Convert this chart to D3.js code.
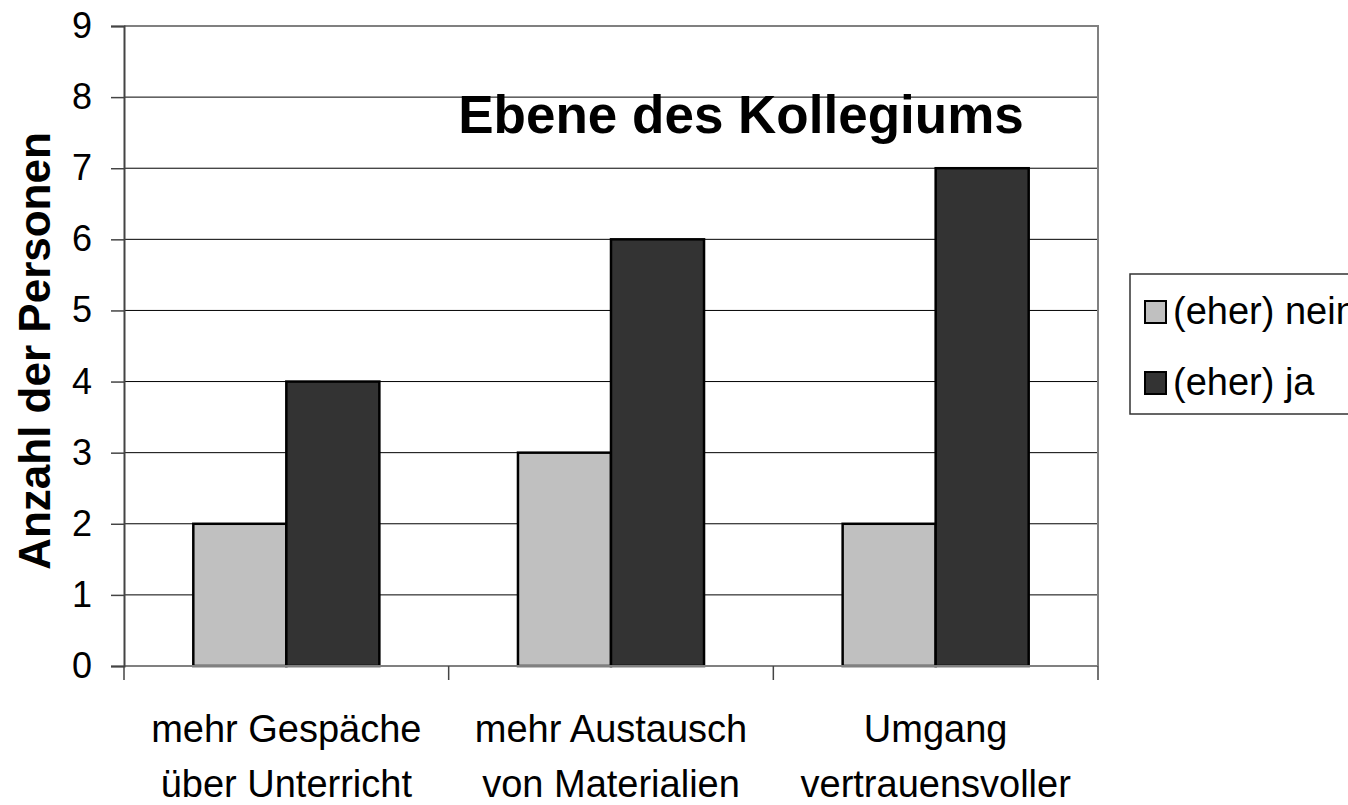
<!DOCTYPE html>
<html>
<head>
<meta charset="utf-8">
<script src="https://cdn.jsdelivr.net/npm/d3@7"></script>
<style>
  body { margin: 0; background: #fff; overflow: hidden; }
  text { font-family: "Liberation Sans", Arial, sans-serif; fill: #000; }
</style>
</head>
<body>
<script>
// Data
var categories = [["mehr Gespäche", "über Unterricht"], ["mehr Austausch", "von Materialien"], ["Umgang", "vertrauensvoller"]];
var series = ["(eher) nein", "(eher) ja"];
var neinValues = [2, 3, 2];
var jaValues = [4, 6, 7];
var yTicks = [0, 1, 2, 3, 4, 5, 6, 7, 8, 9];
var colors = ["#c0c0c0", "#333333"];

var width = 1348, height = 805;
var plot = {left: 124, right: 1098, top: 26, bottom: 666};

var svg = d3.select("body").append("svg")
    .attr("width", width)
    .attr("height", height);

var catIdx = categories.map(function(d, i) { return i; });

var x0 = d3.scaleBand().domain(catIdx).range([plot.left, plot.right]).padding(0);
var x1 = d3.scaleBand().domain(series).range([0, x0.bandwidth()])
    .paddingInner(0).paddingOuter(0.745);
var y = d3.scaleLinear().domain([0, 9]).range([plot.bottom, plot.top]);

// gridlines
svg.append("g").selectAll("line")
    .data(yTicks.filter(function(d) { return d > 0 && d < 9; }))
  .enter().append("line")
    .attr("x1", plot.left).attr("x2", plot.right)
    .attr("y1", function(d) { return y(d); }).attr("y2", function(d) { return y(d); })
    .attr("stroke", "#000").attr("stroke-width", 1);

// plot area border (top, right)
svg.append("path")
    .attr("d", "M" + plot.left + "," + y(9) + "H" + plot.right + "V" + y(0))
    .attr("fill", "none").attr("stroke", "#808080").attr("stroke-width", 2);

// bars
var rows = catIdx.map(function(i) { return [neinValues[i], jaValues[i]]; });
var groups = svg.append("g").selectAll("g")
    .data(rows)
  .enter().append("g")
    .attr("transform", function(d, i) { return "translate(" + x0(i) + ",0)"; });

// x axis line (under bars)
svg.append("line")
    .attr("x1", plot.left).attr("x2", plot.right)
    .attr("y1", y(0)).attr("y2", y(0))
    .attr("stroke", "#808080").attr("stroke-width", 2);

groups.selectAll("rect")
    .data(function(d) { return d.map(function(v, j) { return {s: series[j], v: v, j: j}; }); })
  .enter().append("rect")
    .attr("x", function(d) { return x1(d.s); })
    .attr("width", x1.bandwidth())
    .attr("y", function(d) { return y(d.v); })
    .attr("height", function(d) { return y(0) - y(d.v); })
    .attr("fill", function(d) { return colors[d.j]; })
    .attr("stroke", "#000").attr("stroke-width", 2.5);

// y axis
var yAxis = svg.append("g")
    .attr("transform", "translate(" + plot.left + ",0)")
    .call(d3.axisLeft(y).tickValues(yTicks).tickSize(13).tickPadding(19).tickFormat(d3.format("d")));
yAxis.select(".domain").attr("stroke", "#444").attr("stroke-width", 2);
yAxis.selectAll(".tick line").attr("stroke", "#444").attr("stroke-width", 1.5);
yAxis.selectAll(".tick text")
    .style("font-size", "36px")
    .style("font-family", "'Liberation Sans', Arial, sans-serif")
    .attr("fill", "#000");

// x category ticks
svg.append("g").selectAll("line")
    .data(d3.range(categories.length + 1))
  .enter().append("line")
    .attr("x1", function(d) { return plot.left + d * x0.step(); })
    .attr("x2", function(d) { return plot.left + d * x0.step(); })
    .attr("y1", y(0)).attr("y2", y(0) + 14)
    .attr("stroke", "#444").attr("stroke-width", 1.5);

// category labels
var catLabels = svg.append("g").selectAll("g")
    .data(categories)
  .enter().append("g")
    .attr("transform", function(d, i) { return "translate(" + (x0(i) + x0.bandwidth() / 2) + ",0)"; });
catLabels.selectAll("text")
    .data(function(d) { return d; })
  .enter().append("text")
    .attr("text-anchor", "middle")
    .attr("y", function(d, k) { return 742 + k * 55; })
    .style("font-size", "38px")
    .text(function(d) { return d; });

// title
svg.append("text")
    .attr("x", 741).attr("y", 133)
    .attr("text-anchor", "middle")
    .style("font-size", "53px").style("font-weight", "bold")
    .text("Ebene des Kollegiums");

// y axis title
svg.append("text")
    .attr("transform", "translate(50," + ((132 + 570) / 2) + ") rotate(-90)")
    .attr("text-anchor", "middle")
    .style("font-size", "44px").style("font-weight", "bold")
    .text("Anzahl der Personen");

// legend
var legend = svg.append("g");
legend.append("rect")
    .attr("x", 1130).attr("y", 274)
    .attr("width", 260).attr("height", 140)
    .attr("fill", "#fff").attr("stroke", "#333").attr("stroke-width", 1.5);
var items = legend.selectAll("g.item")
    .data(series)
  .enter().append("g")
    .attr("class", "item")
    .attr("transform", function(d, i) { return "translate(1145," + (312 + i * 71) + ")"; });
items.append("rect")
    .attr("x", 0).attr("y", -11)
    .attr("width", 21).attr("height", 22)
    .attr("fill", function(d, i) { return colors[i]; })
    .attr("stroke", "#000").attr("stroke-width", 2);
items.append("text")
    .attr("x", 28).attr("y", 12)
    .style("font-size", "38px")
    .text(function(d) { return d; });
</script>
</body>
</html>
